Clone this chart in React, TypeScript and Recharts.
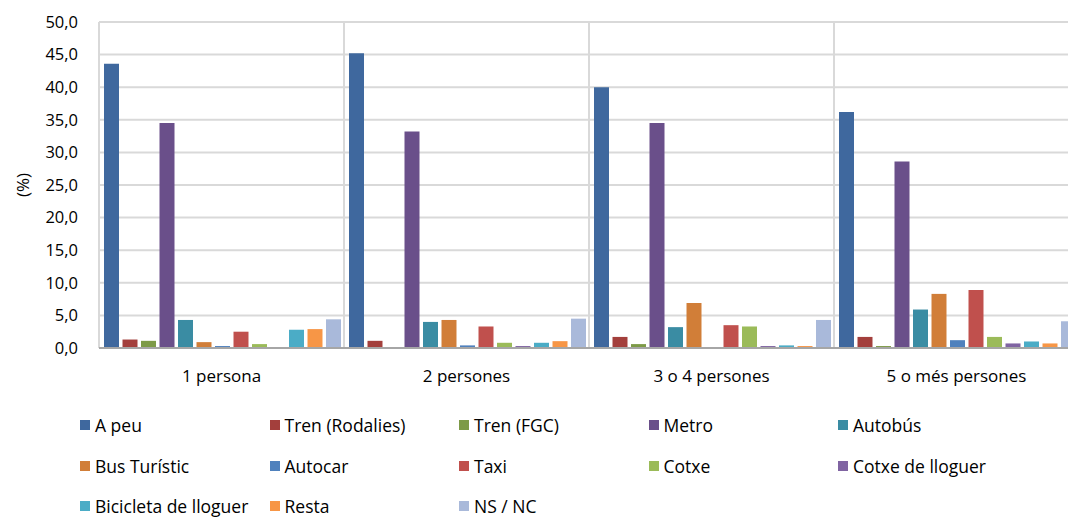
import { BarChart, Bar, XAxis, YAxis, CartesianGrid } from "recharts";

const categories = ["1 persona", "2 persones", "3 o 4 persones", "5 o més persones"];

const seriesNames = [
  "A peu",
  "Tren (Rodalies)",
  "Tren (FGC)",
  "Metro",
  "Autobús",
  "Bus Turístic",
  "Autocar",
  "Taxi",
  "Cotxe",
  "Cotxe de lloguer",
  "Bicicleta de lloguer",
  "Resta",
  "NS / NC",
];

const colors = [
  "#3F689E",
  "#A33F3C",
  "#7D9A47",
  "#6A4F8A",
  "#3A8CA3",
  "#D17E38",
  "#4F81BD",
  "#C0504D",
  "#9BBB59",
  "#8064A2",
  "#4BACC6",
  "#F79646",
  "#A9B9DA",
];

// one value per category, in category order
const aPeu = [43.6, 45.2, 40.0, 36.2];
const trenRodalies = [1.3, 1.1, 1.7, 1.7];
const trenFgc = [1.1, 0.1, 0.6, 0.3];
const metro = [34.5, 33.2, 34.5, 28.6];
const autobus = [4.3, 4.0, 3.2, 5.9];
const busTuristic = [0.9, 4.3, 6.9, 8.3];
const autocar = [0.3, 0.4, 0, 1.2];
const taxi = [2.5, 3.3, 3.5, 8.9];
const cotxe = [0.6, 0.8, 3.3, 1.7];
const cotxeLloguer = [0.1, 0.3, 0.3, 0.7];
const bicicleta = [2.8, 0.8, 0.4, 1.0];
const resta = [2.9, 1.05, 0.3, 0.7];
const nsnc = [4.4, 4.5, 4.3, 4.1];

const seriesValues = [
  aPeu,
  trenRodalies,
  trenFgc,
  metro,
  autobus,
  busTuristic,
  autocar,
  taxi,
  cotxe,
  cotxeLloguer,
  bicicleta,
  resta,
  nsnc,
];

const yTicks = [0, 5, 10, 15, 20, 25, 30, 35, 40, 45, 50];

const data = categories.map((cat, i) => {
  const row: Record<string, string | number> = { cat };
  seriesNames.forEach((name, s) => {
    row[name] = seriesValues[s][i];
  });
  return row;
});

const font = "'Open Sans', sans-serif";
const fmt = (v: number) => v.toFixed(1).replace(".", ",");

const YLabel = (props: any) => {
  const { viewBox } = props;
  const x = viewBox.x + 22;
  const y = viewBox.y + viewBox.height / 2;
  return (
    <text
      x={x}
      y={y}
      transform={`rotate(-90 ${x} ${y})`}
      textAnchor="middle"
      dominantBaseline="central"
      fill="#000"
      fontSize={17}
      fontFamily={font}
    >
      (%)
    </text>
  );
};

function LegendBox() {
  return (
    <div style={{ position: "absolute", left: 80, top: 412, width: 980 }}>
      {seriesNames.map((name, i) => (
        <div
          key={name}
          style={{
            position: "absolute",
            left: (i % 5) * 189.5,
            top: Math.floor(i / 5) * 40.5,
            display: "flex",
            alignItems: "center",
            whiteSpace: "nowrap",
            fontFamily: font,
            fontSize: 17.5,
            color: "#000",
            height: 26,
          }}
        >
          <span
            style={{
              display: "inline-block",
              width: 10,
              height: 10,
              background: colors[i],
              marginRight: 5,
            }}
          />
          {name}
        </div>
      ))}
    </div>
  );
}

export default function App() {
  return (
    <div
      style={{
        position: "fixed",
        left: 0,
        top: 0,
        width: 1068,
        height: 518,
        overflow: "hidden",
        background: "#fff",
      }}
    >
      <BarChart
        width={1090}
        height={390}
        data={data}
        margin={{ top: 22, right: 11, bottom: 12, left: 0 }}
        barCategoryGap={5}
        barGap={3.5}
      >
        <CartesianGrid
          stroke="#D9D9D9"
          strokeWidth={2}
          verticalCoordinatesGenerator={({ offset }: any) =>
            categories
              .map((_, i) => offset.left + (i * offset.width) / categories.length)
              .concat([offset.left + offset.width])
          }
        />
        <XAxis
          dataKey="cat"
          tickLine={false}
          axisLine={{ stroke: "#A6A6A6", strokeWidth: 2 }}
          tickMargin={16}
          height={30}
          tick={{ fill: "#000", fontSize: 17, fontFamily: font }}
        />
        <YAxis
          width={99}
          domain={[0, 50]}
          ticks={yTicks}
          tickFormatter={fmt}
          tickLine={false}
          axisLine={false}
          tickMargin={15}
          tick={{ fill: "#000", fontSize: 16.5, fontFamily: font }}
          label={{ content: YLabel }}
        />
        {seriesNames.map((name, i) => (
          <Bar key={name} dataKey={name} fill={colors[i]} isAnimationActive={false} />
        ))}
      </BarChart>
      <LegendBox />
    </div>
  );
}
